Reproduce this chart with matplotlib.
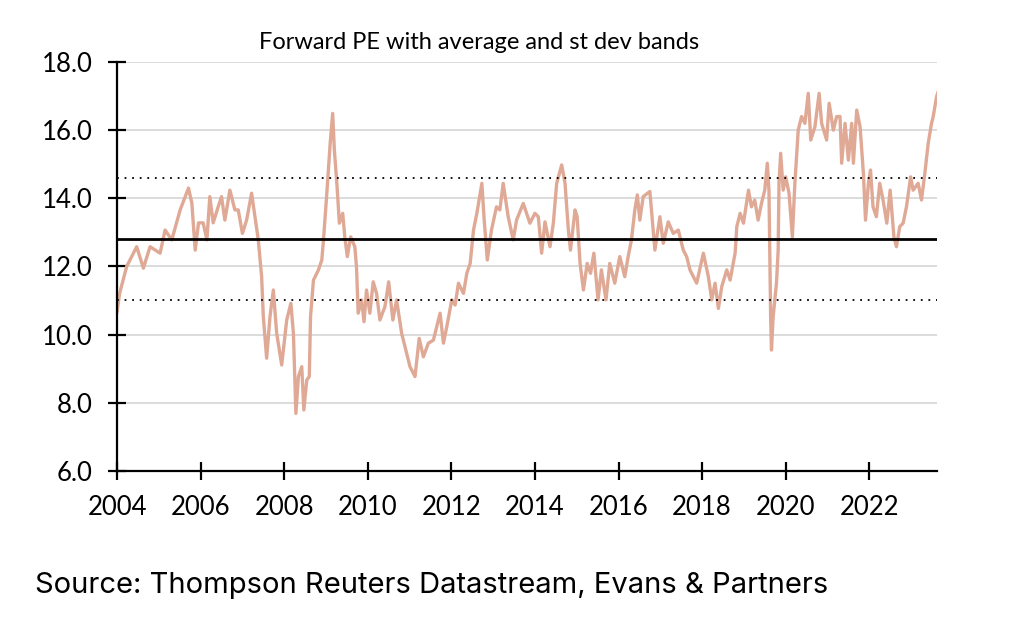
import matplotlib.pyplot as plt

# values (decimal year, forward PE)
years = [2004.00, 2004.06, 2004.23, 2004.47, 2004.63, 2004.79, 2005.03, 2005.15, 2005.31, 2005.51,
         2005.71, 2005.79, 2005.87, 2005.95, 2006.06, 2006.15, 2006.22, 2006.30, 2006.42, 2006.50,
         2006.58, 2006.70, 2006.82, 2006.90, 2007.00, 2007.10, 2007.22, 2007.30, 2007.38, 2007.46,
         2007.50, 2007.58, 2007.66, 2007.74, 2007.82, 2007.94, 2008.06, 2008.16, 2008.22, 2008.28,
         2008.34, 2008.42, 2008.47, 2008.54, 2008.60, 2008.63, 2008.70, 2008.82, 2008.90, 2008.94,
         2009.02, 2009.10, 2009.16, 2009.20, 2009.26, 2009.32, 2009.40, 2009.45, 2009.51, 2009.59,
         2009.69, 2009.73, 2009.77, 2009.85, 2009.91, 2009.97, 2010.05, 2010.13, 2010.21, 2010.29,
         2010.41, 2010.50, 2010.60, 2010.69, 2010.81, 2010.89, 2011.01, 2011.13, 2011.23, 2011.33,
         2011.45, 2011.57, 2011.73, 2011.81, 2011.89, 2012.01, 2012.09, 2012.17, 2012.29, 2012.37,
         2012.45, 2012.53, 2012.61, 2012.73, 2012.78, 2012.86, 2012.96, 2013.08, 2013.16, 2013.24,
         2013.36, 2013.48, 2013.56, 2013.72, 2013.88, 2014.00, 2014.08, 2014.16, 2014.24, 2014.36,
         2014.44, 2014.52, 2014.64, 2014.72, 2014.80, 2014.85, 2014.96, 2015.01, 2015.08, 2015.16,
         2015.25, 2015.33, 2015.41, 2015.51, 2015.59, 2015.70, 2015.79, 2015.91, 2016.03, 2016.15,
         2016.23, 2016.31, 2016.39, 2016.45, 2016.51, 2016.59, 2016.75, 2016.83, 2016.87, 2016.99,
         2017.07, 2017.19, 2017.31, 2017.43, 2017.55, 2017.63, 2017.71, 2017.87, 2018.03, 2018.15,
         2018.23, 2018.31, 2018.39, 2018.47, 2018.59, 2018.67, 2018.79, 2018.83, 2018.91, 2018.99,
         2019.11, 2019.18, 2019.26, 2019.34, 2019.42, 2019.50, 2019.56, 2019.60, 2019.64, 2019.66,
         2019.70, 2019.78, 2019.82, 2019.84, 2019.88, 2019.94, 2020.00, 2020.08, 2020.16, 2020.22,
         2020.30, 2020.38, 2020.46, 2020.54, 2020.60, 2020.70, 2020.80, 2020.86, 2020.98, 2021.04,
         2021.14, 2021.22, 2021.30, 2021.34, 2021.42, 2021.50, 2021.58, 2021.62, 2021.70, 2021.78,
         2021.86, 2021.91, 2021.98, 2022.03, 2022.09, 2022.17, 2022.25, 2022.33, 2022.42, 2022.50,
         2022.59, 2022.65, 2022.73, 2022.81, 2022.89, 2022.99, 2023.05, 2023.17, 2023.25, 2023.33,
         2023.41, 2023.49, 2023.53, 2023.61, 2023.64]
pe = [10.67, 11.20, 12.00, 12.58, 11.95, 12.58, 12.39, 13.07, 12.78, 13.66,
      14.30, 13.86, 12.48, 13.28, 13.28, 12.78, 14.05, 13.28, 13.75, 14.05,
      13.36, 14.24, 13.66, 13.66, 12.97, 13.36, 14.15, 13.46, 12.78, 11.70,
      10.53, 9.31, 10.53, 11.31, 10.04, 9.11, 10.43, 10.92, 10.04, 7.69,
      8.77, 9.06, 7.79, 8.67, 8.77, 10.53, 11.60, 11.90, 12.19, 12.78,
      14.15, 15.61, 16.49, 15.42, 14.44, 13.27, 13.56, 12.87, 12.29, 12.87,
      12.58, 11.99, 10.63, 11.02, 10.38, 11.31, 10.63, 11.55, 11.21, 10.43,
      10.82, 11.55, 10.43, 11.02, 10.04, 9.65, 9.06, 8.77, 9.89, 9.35,
      9.75, 9.84, 10.63, 9.75, 10.23, 11.02, 10.87, 11.51, 11.21, 11.80,
      12.09, 13.07, 13.56, 14.44, 13.46, 12.19, 13.07, 13.75, 13.66, 14.44,
      13.46, 12.78, 13.36, 13.85, 13.27, 13.56, 13.46, 12.39, 13.31, 12.58,
      13.27, 14.44, 14.98, 14.44, 13.07, 12.48, 13.66, 13.46, 12.09, 11.31,
      12.09, 11.80, 12.39, 11.02, 11.90, 11.02, 12.09, 11.51, 12.29, 11.70,
      12.29, 12.78, 13.66, 14.10, 13.36, 14.05, 14.20, 13.07, 12.48, 13.46,
      12.68, 13.31, 12.97, 13.07, 12.48, 12.29, 11.90, 11.51, 12.39, 11.70,
      11.02, 11.51, 10.77, 11.41, 11.90, 11.60, 12.39, 13.17, 13.56, 13.27,
      14.24, 13.75, 13.95, 13.36, 13.85, 14.24, 15.03, 14.24, 10.53, 9.55,
      10.53, 11.51, 12.48, 14.44, 15.32, 14.24, 14.63, 14.15, 12.87, 14.44,
      16.00, 16.40, 16.20, 17.08, 15.71, 16.10, 17.08, 16.20, 15.71, 16.79,
      16.00, 16.40, 16.40, 15.03, 16.20, 15.12, 16.20, 15.03, 16.59, 16.10,
      14.73, 13.36, 14.44, 14.83, 13.75, 13.46, 14.44, 13.95, 13.27, 14.24,
      12.87, 12.58, 13.17, 13.27, 13.75, 14.63, 14.24, 14.44, 13.95, 14.73,
      15.61, 16.20, 16.40, 16.98, 17.10]

average = 12.81
upper_band = 14.6
lower_band = 11.02

x_ticks = [2004, 2006, 2008, 2010, 2012, 2014, 2016, 2018, 2020, 2022]
y_ticks = [6.0, 8.0, 10.0, 12.0, 14.0, 16.0, 18.0]

plt.rcParams['font.family'] = ['Lato', 'DejaVu Sans']

fig = plt.figure(figsize=(10.24, 6.23), dpi=100)
ax = fig.add_axes([0.1143, 0.244, 0.8007, 0.6565])

for v in y_ticks[1:]:
    ax.axhline(v, color="#D9D9D9", linewidth=1.3, zorder=1)

ax.plot(years, pe, color="#DFA996", linewidth=2.4, zorder=3)
ax.axhline(average, color="black", linewidth=2.0, zorder=4)
ax.axhline(upper_band, color="black", linewidth=1.3, linestyle=(0, (1, 3.2)), zorder=4)
ax.axhline(lower_band, color="black", linewidth=1.3, linestyle=(0, (1, 3.2)), zorder=4)

ax.set_xlim(2004, 2023.62)
ax.set_ylim(6, 18)
ax.set_xticks(x_ticks)
ax.set_xticklabels([str(t) for t in x_ticks])
ax.set_yticks(y_ticks)
ax.set_yticklabels(["%.1f" % t for t in y_ticks])

for s in ["top", "right"]:
    ax.spines[s].set_visible(False)
for s in ["left", "bottom"]:
    ax.spines[s].set_linewidth(1.6)
    ax.spines[s].set_zorder(5)

ax.tick_params(axis="both", direction="inout", length=13, width=1.6, labelsize=18.5)
ax.tick_params(axis="y", pad=11)
ax.tick_params(axis="x", pad=11)

fig.text(0.468, 0.931, "Forward PE with average and st dev bands", ha="center", va="center",
         fontsize=17)
fig.text(0.034, 0.06, "Source: Thompson Reuters Datastream, Evans & Partners", ha="left",
         va="center", fontsize=21, family=["Inter", "DejaVu Sans"])

fig.savefig("out.png", dpi=100)
